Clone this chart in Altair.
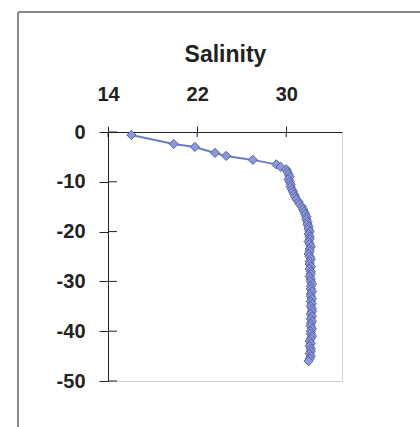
import altair as alt
import pandas as pd

# Salinity profile: depth (m, negative downward) and salinity readings
depth = [
    -0.6, -2.4, -3.0, -4.2, -4.8, -5.6, -6.5,
    -7.0, -7.5, -8.0, -8.5, -9.0, -9.5, -10.0, -10.5, -11.0, -11.5,
    -12.0, -12.5, -13.0, -13.5, -14.0, -14.5, -15.0, -15.5, -16.0, -16.5,
    -17.0, -17.5, -18.0, -18.5, -19.0, -19.5, -20.0, -20.5, -21.0, -21.5,
    -22.0, -22.5, -23.0, -23.5, -24.0, -24.5, -25.0, -25.5, -26.0, -26.5,
    -27.0, -27.5, -28.0, -28.5, -29.0, -29.5, -30.0, -30.5, -31.0, -31.5,
    -32.0, -32.5, -33.0, -33.5, -34.0, -34.5, -35.0, -35.5, -36.0, -36.5,
    -37.0, -37.5, -38.0, -38.5, -39.0, -39.5, -40.0, -40.5, -41.0, -41.5,
    -42.0, -42.5, -43.0, -43.5, -44.0, -44.5, -45.0, -45.5, -46.0,
]
salinity = [
    16.1, 19.9, 21.8, 23.6, 24.6, 27.0, 29.1,
    29.5, 30.0, 30.1, 30.2, 30.3, 30.2, 30.3, 30.4, 30.4, 30.5,
    30.6, 30.7, 30.8, 30.9, 31.1, 31.2, 31.4, 31.5, 31.6, 31.7,
    31.8, 31.8, 31.9, 31.9, 32.0, 32.0, 32.1, 32.0, 32.1, 32.1,
    32.0, 32.1, 32.2, 32.1, 32.1, 32.0, 32.1, 32.2, 32.1, 32.1,
    32.2, 32.1, 32.2, 32.2, 32.1, 32.2, 32.2, 32.3, 32.2, 32.2,
    32.3, 32.2, 32.2, 32.3, 32.2, 32.3, 32.2, 32.3, 32.3, 32.2,
    32.3, 32.2, 32.3, 32.2, 32.2, 32.3, 32.2, 32.2, 32.3, 32.2,
    32.1, 32.2, 32.1, 32.2, 32.2, 32.1, 32.2, 32.1, 32.0,
]
x_ticks = [14, 22, 30]
y_ticks = [0, -10, -20, -30, -40, -50]

df = pd.DataFrame({"depth": depth, "salinity": salinity, "order": list(range(len(depth)))})
xt = pd.DataFrame({"salinity": x_ticks})
yt = pd.DataFrame({"depth": y_ticks})

FONT = "Liberation Sans"
INK = "#222222"
LINE_COLOR = "#6f7cc0"
FILL_COLOR = "#8c99d6"
EDGE_COLOR = "#5563a8"

x_scale = alt.Scale(domain=[14, 35], nice=False, zero=False)
y_scale = alt.Scale(domain=[-50, 0], nice=False, zero=False)

x_enc = alt.X(
    "salinity:Q",
    scale=x_scale,
    axis=alt.Axis(
        orient="top", values=x_ticks, title="Salinity", grid=False,
        domainColor=INK, tickColor=INK, tickSize=6,
        labelFont=FONT, labelFontSize=20, labelFontWeight="bold", labelColor=INK,
        labelPadding=22, labelFlush=False,
        titleFont=FONT, titleFontSize=23, titleFontWeight="bold", titleColor=INK,
        titlePadding=18,
    ),
)
y_enc = alt.Y(
    "depth:Q",
    scale=y_scale,
    axis=alt.Axis(
        values=y_ticks, title=None, grid=False,
        domainColor=INK, tickColor=INK, tickSize=9,
        labelFont=FONT, labelFontSize=20, labelFontWeight="bold", labelColor=INK,
        labelPadding=14, labelFlush=False,
        labelExpr="toString(datum.value)",
    ),
)

line = alt.Chart(df).mark_line(color=LINE_COLOR, strokeWidth=2).encode(
    x=x_enc, y=y_enc, order="order:Q"
)
points = alt.Chart(df).mark_point(
    shape="diamond", size=85, filled=True, fill=FILL_COLOR,
    stroke=EDGE_COLOR, strokeWidth=1, opacity=1,
).encode(x="salinity:Q", y="depth:Q")

# Inner halves of the cross-style tick marks
y_inner = alt.Chart(yt).mark_rule(color=INK, strokeWidth=1).encode(
    y=alt.Y("depth:Q", scale=y_scale), x=alt.value(0), x2=alt.value(9)
)
x_inner = alt.Chart(xt).mark_rule(color=INK, strokeWidth=1).encode(
    x=alt.X("salinity:Q", scale=x_scale), y=alt.value(0), y2=alt.value(5)
)

# Outer chart-area frame (left and top edges)
frame_left = alt.Chart(df).mark_rule(color="#8a8a8a", strokeWidth=1.5).encode(
    x=alt.value(-90), y=alt.value(-120), y2=alt.value(300)
)
frame_top = alt.Chart(df).mark_rule(color="#8a8a8a", strokeWidth=1.5).encode(
    x=alt.value(-90), x2=alt.value(330), y=alt.value(-120)
)

chart = (
    alt.layer(frame_left, frame_top, line, points, y_inner, x_inner)
    .properties(
        width=234, height=249,
        padding={"left": 108, "top": 132, "right": 78, "bottom": 46},
        autosize=alt.AutoSizeParams(type="none"),
        background="white",
    )
    .configure_view(stroke="#d4d4d4", strokeWidth=1)
)

chart.save("out.html", embed_options={"renderer": "svg", "actions": False})
